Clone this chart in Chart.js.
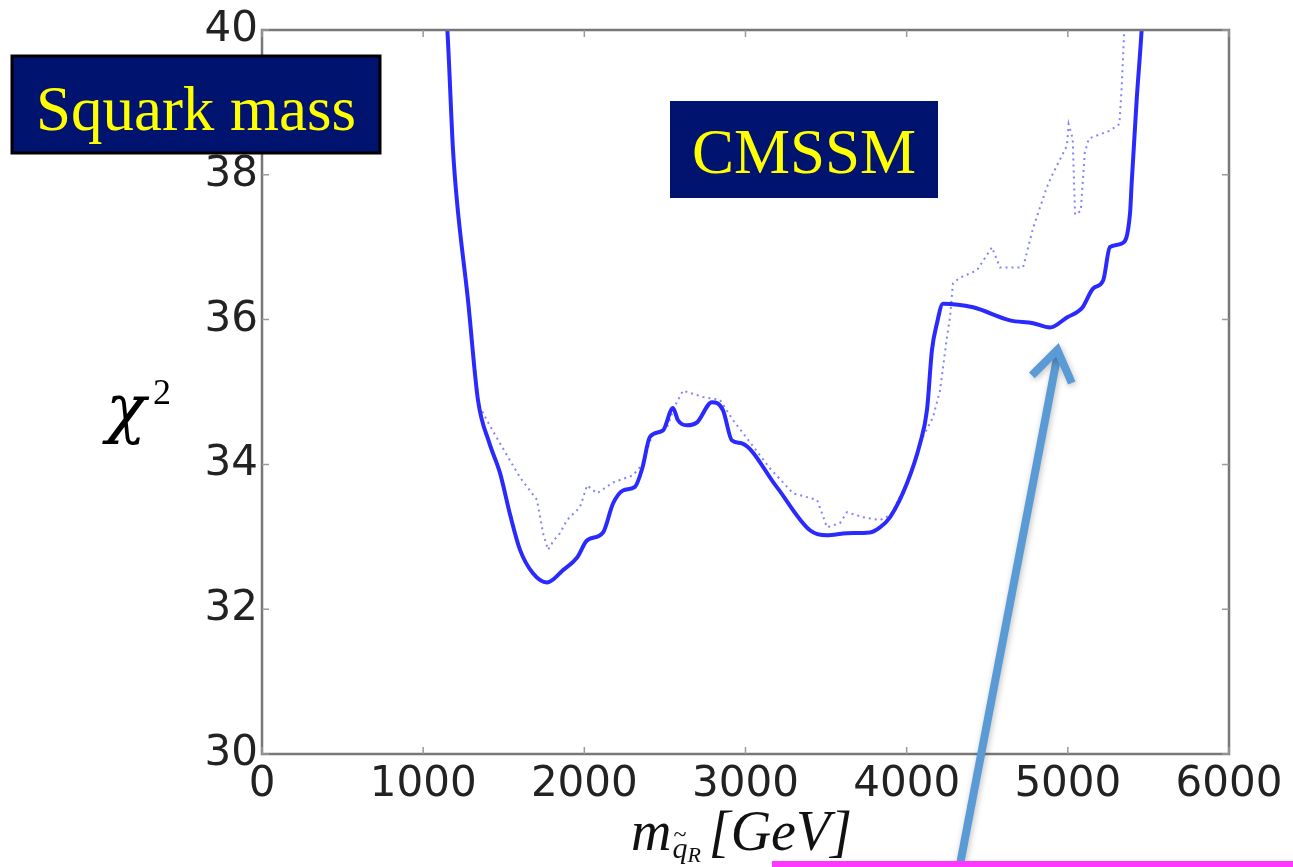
<!DOCTYPE html>
<html>
<head>
<meta charset="utf-8">
<script src="https://cdn.jsdelivr.net/npm/chart.js@4/dist/chart.umd.min.js"></script>
<style>
  html, body { margin: 0; padding: 0; background: #ffffff; }
  #wrap { width: 1293px; height: 867px; position: relative; }
</style>
</head>
<body>
<div id="wrap"><canvas id="chi2" width="1293" height="867"></canvas></div>
<script>
// Profile chi^2 versus squark mass (GeV), CMSSM fit
const massSolid = [1130, 1150, 1185, 1209, 1278, 1340, 1410, 1477, 1540, 1601, 1680, 1768, 1868, 1954, 2017,
  2116, 2178, 2240, 2314, 2360, 2407, 2488, 2550, 2581, 2637, 2699, 2792, 2860, 2916, 2978, 3190, 3400, 3506,
  3630, 3772, 3834, 3897, 4002, 4083, 4126, 4157, 4188, 4225, 4412, 4641, 4785, 4889, 4994, 5088, 5157, 5219,
  5261, 5334, 5386, 5396, 5427, 5458, 5470];
const chi2Solid = [40.5, 40.0, 38.35, 37.65, 36.27, 34.89, 34.3, 33.88, 33.3, 32.82, 32.5, 32.37, 32.54, 32.71, 32.95,
  33.06, 33.46, 33.64, 33.69, 33.95, 34.38, 34.47, 34.78, 34.61, 34.54, 34.58, 34.86, 34.75, 34.33, 34.29, 33.7, 33.09, 33.02,
  33.05, 33.06, 33.13, 33.27, 33.74, 34.29, 34.75, 35.58, 35.95, 36.22, 36.17, 35.99, 35.95, 35.89, 36.03, 36.16, 36.43, 36.54,
  37.0, 37.05, 37.47, 37.88, 39.03, 40.0, 40.5];

const massDotted = [1130, 1150, 1185, 1209, 1278, 1340, 1352, 1410, 1477, 1540, 1601, 1706, 1744, 1775, 1810, 1849,
  1892, 1973, 2017, 2079, 2178, 2302, 2360, 2420, 2513, 2560, 2612, 2736, 2842, 2923, 2985, 3150, 3295, 3444, 3506,
  3586, 3630, 3729, 3834, 3900, 4002, 4101, 4163, 4207, 4250, 4269, 4287, 4331, 4436, 4529, 4579, 4722, 4785, 4870,
  4908, 4994, 5005, 5030, 5045, 5080, 5105, 5130, 5261, 5320, 5334, 5350, 5360];
const chi2Dotted = [40.5, 40.0, 38.35, 37.65, 36.27, 34.95, 34.79, 34.55, 34.29, 34.05, 33.82, 33.51, 33.05, 32.82, 32.95, 33.05,
  33.23, 33.41, 33.71, 33.6, 33.75, 33.85, 34.0, 34.4, 34.51, 34.8, 35.02, 34.93, 34.89, 34.61, 34.43, 33.95, 33.6, 33.51, 33.13,
  33.19, 33.34, 33.27, 33.23, 33.3, 33.74, 34.38, 34.65, 35.02, 35.76, 36.03, 36.5, 36.58, 36.68, 37.0, 36.72, 36.72, 37.27, 37.83,
  38.02, 38.4, 38.7, 38.5, 37.45, 37.5, 38.3, 38.5, 38.61, 38.7, 39.2, 40.0, 40.5];

const xTickValues = [0, 1000, 2000, 3000, 4000, 5000, 6000];
const yTickValues = [30, 32, 34, 36, 38, 40];

const toPoints = (xs, ys) => xs.map((x, i) => ({ x: x, y: ys[i] }));

const tickFont = { family: '"DejaVu Sans", sans-serif', size: 42 };

// Frame with inward ticks on all four sides, matplotlib style
const framePlugin = {
  id: 'frame',
  afterDraw(chart) {
    const ctx = chart.ctx;
    const a = chart.chartArea;
    const xs = chart.scales.x, ys = chart.scales.y;
    ctx.save();
    ctx.strokeStyle = '#777777';
    ctx.lineWidth = 2.5;
    ctx.strokeRect(a.left, a.top, a.right - a.left, a.bottom - a.top);
    ctx.lineWidth = 1.5;
    ctx.strokeStyle = '#9a9a9a';
    const tl = 7;
    xTickValues.forEach(v => {
      const px = xs.getPixelForValue(v);
      ctx.beginPath();
      ctx.moveTo(px, a.bottom); ctx.lineTo(px, a.bottom - tl);
      ctx.moveTo(px, a.top); ctx.lineTo(px, a.top + tl);
      ctx.stroke();
    });
    yTickValues.forEach(v => {
      const py = ys.getPixelForValue(v);
      ctx.beginPath();
      ctx.moveTo(a.left, py); ctx.lineTo(a.left + tl, py);
      ctx.moveTo(a.right, py); ctx.lineTo(a.right - tl, py);
      ctx.stroke();
    });
    ctx.restore();
  }
};

// Axis titles, labelled boxes, pointer arrow
const annotationPlugin = {
  id: 'notes',
  afterDraw(chart) {
    const ctx = chart.ctx;
    const xs = chart.scales.x, ys = chart.scales.y;
    const a = chart.chartArea;
    ctx.save();

    // y title: chi^2
    ctx.fillStyle = '#000000';
    ctx.textBaseline = 'alphabetic';
    ctx.textAlign = 'left';
    ctx.font = 'italic 66px "DejaVu Serif", serif';
    ctx.fillText('\u03C7', 106, 430);
    ctx.font = '36px "Liberation Serif", serif';
    ctx.fillText('2', 153, 404);

    // x title: m_{q~R} [GeV]
    ctx.fillStyle = '#111111';
    const mainFont = 'italic 56px "Liberation Serif", serif';
    const subFont = 'italic 30px "Liberation Serif", serif';
    ctx.font = mainFont;
    const wM = ctx.measureText('m').width;
    const wG = ctx.measureText('[GeV]').width;
    ctx.font = subFont;
    const wS = ctx.measureText('qR').width + 4;
    const total = wM + wS + wG;
    let x0 = (a.left + a.right) / 2 - total / 2 - 4;
    const base = 850;
    ctx.font = mainFont;
    ctx.fillText('m', x0, base);
    ctx.font = subFont;
    ctx.fillText('q', x0 + wM + 1, base + 8);
    const wq = ctx.measureText('q').width;
    ctx.font = 'italic 22px "Liberation Serif", serif';
    ctx.fillText('R', x0 + wM + 1 + wq, base + 12);
    ctx.font = '24px "Liberation Serif", serif';
    ctx.fillText('~', x0 + wM + 2, base - 8);
    ctx.font = mainFont;
    ctx.fillText('[GeV]', x0 + wM + wS, base);

    // labelled boxes
    ctx.textAlign = 'center';
    ctx.font = '63px "Liberation Serif", serif';
    ctx.fillStyle = '#00136f';
    ctx.fillRect(12, 56, 368, 97);
    ctx.strokeStyle = '#000000';
    ctx.lineWidth = 3;
    ctx.strokeRect(12, 56, 368, 97);
    ctx.fillStyle = '#ffff00';
    ctx.fillText('Squark mass', 196, 130);

    ctx.fillStyle = '#00136f';
    ctx.fillRect(670, 101, 268, 97);
    ctx.fillStyle = '#ffff00';
    ctx.fillText('CMSSM', 804, 173);

    // arrow pointing at the solid-curve minimum on the high-mass side
    const tipX = xs.getPixelForValue(4935);
    const tipY = ys.getPixelForValue(35.58);
    const tailX = 958, tailY = 875;
    ctx.strokeStyle = '#5b9bd5';
    ctx.lineWidth = 8;
    ctx.lineCap = 'butt';
    ctx.shadowColor = 'rgba(0,0,0,0.25)';
    ctx.shadowBlur = 6;
    ctx.shadowOffsetX = 1;
    ctx.shadowOffsetY = 2;
    ctx.beginPath();
    ctx.moveTo(tailX, tailY);
    ctx.lineTo(tipX, tipY + 6);
    ctx.stroke();
    const ang = Math.atan2(tipY - tailY, tipX - tailX);
    const hl = 36, spread = 0.6;
    ctx.lineJoin = 'miter';
    ctx.beginPath();
    ctx.moveTo(tipX - hl * Math.cos(ang - spread), tipY - hl * Math.sin(ang - spread));
    ctx.lineTo(tipX, tipY);
    ctx.lineTo(tipX - hl * Math.cos(ang + spread), tipY - hl * Math.sin(ang + spread));
    ctx.stroke();
    ctx.shadowColor = 'transparent';

    // magenta box edge along the bottom
    ctx.fillStyle = '#ff38ff';
    ctx.fillRect(772, 861, 521, 6);
    ctx.restore();
  }
};

new Chart(document.getElementById('chi2'), {
  type: 'scatter',
  data: {
    datasets: [
      {
        label: 'profile',
        data: toPoints(massSolid, chi2Solid),
        showLine: true,
        borderColor: '#2a2aff',
        borderWidth: 4,
        pointRadius: 0,
        cubicInterpolationMode: 'monotone',
        borderJoinStyle: 'round'
      },
      {
        label: 'dotted',
        data: toPoints(massDotted, chi2Dotted),
        showLine: true,
        borderColor: 'rgba(90,90,255,0.75)',
        borderWidth: 2,
        borderDash: [2, 4],
        pointRadius: 0,
        tension: 0
      }
    ]
  },
  options: {
    responsive: false,
    devicePixelRatio: 1,
    animation: false,
    layout: { padding: { top: 30, right: 64, left: 0, bottom: 0 } },
    plugins: { legend: { display: false }, tooltip: { enabled: false } },
    scales: {
      x: {
        type: 'linear',
        min: 0, max: 6000,
        afterBuildTicks: s => { s.ticks = xTickValues.map(v => ({ value: v })); },
        afterFit: s => { s.height = 113; },
        grid: { display: false, drawTicks: false },
        border: { display: false },
        ticks: { font: tickFont, color: '#222222', padding: 6, maxRotation: 0, autoSkip: false,
                 callback: v => String(v) }
      },
      y: {
        type: 'linear',
        min: 30, max: 40,
        afterBuildTicks: s => { s.ticks = yTickValues.map(v => ({ value: v })); },
        afterFit: s => { s.width = 262; },
        grid: { display: false, drawTicks: false },
        border: { display: false },
        ticks: { font: tickFont, color: '#222222', padding: 4, callback: v => String(v) }
      }
    }
  },
  plugins: [framePlugin, annotationPlugin]
});
</script>
</body>
</html>
